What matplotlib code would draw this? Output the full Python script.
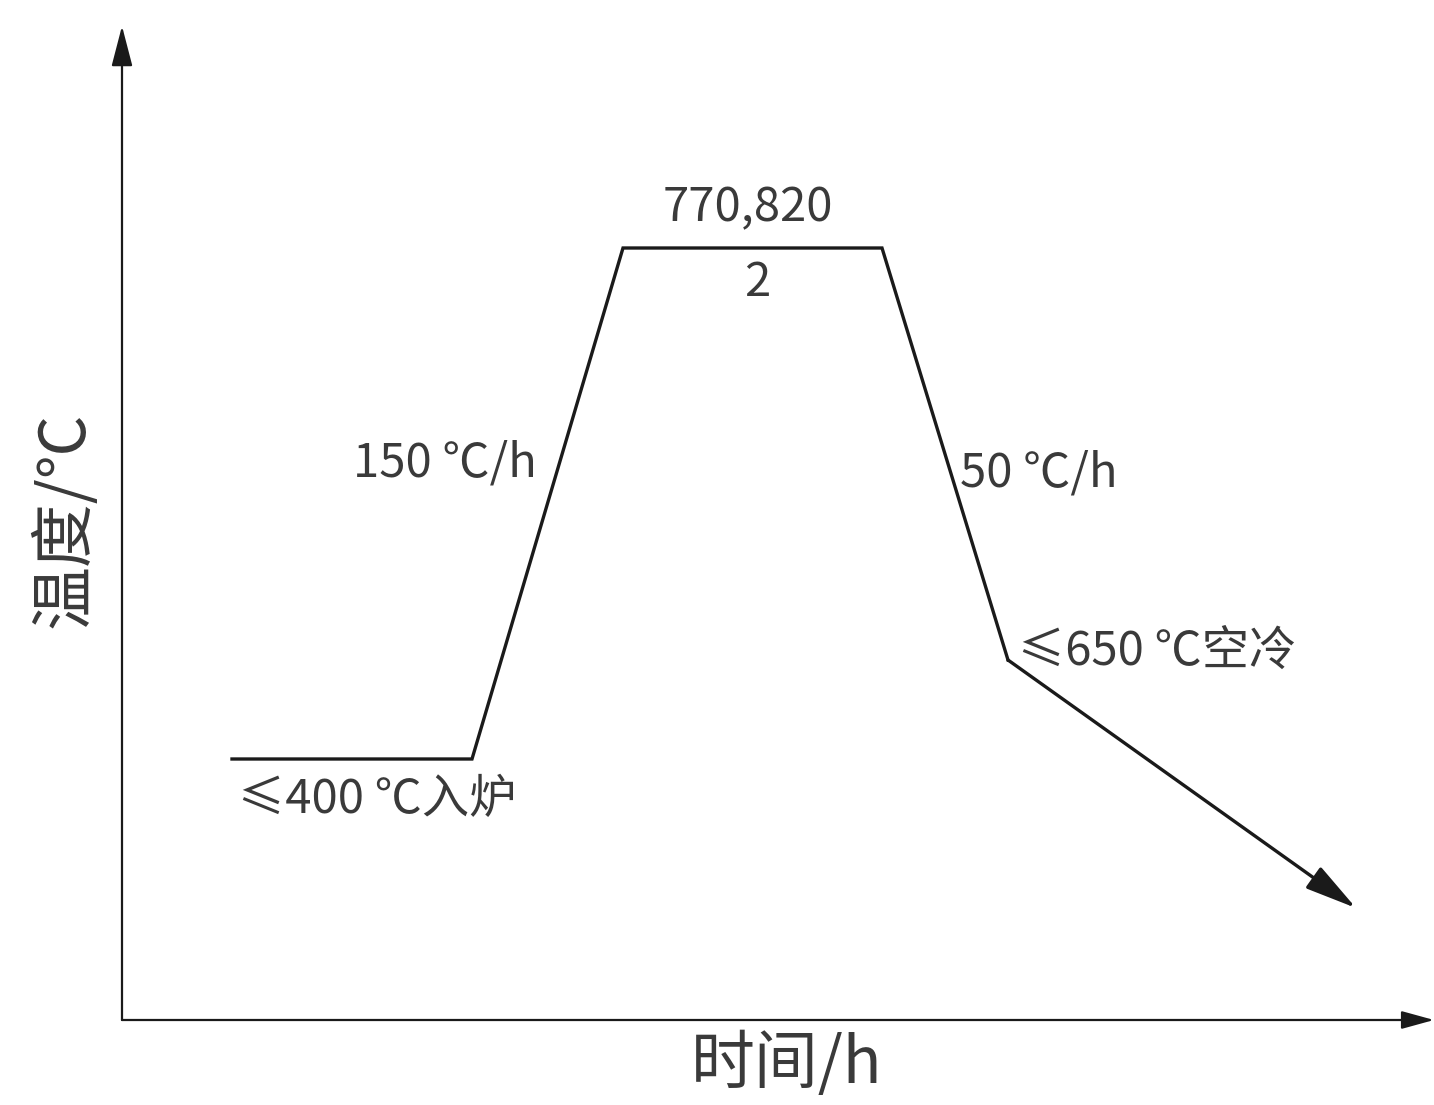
import matplotlib
matplotlib.use("Agg")
import matplotlib.pyplot as plt

plt.rcParams["font.family"] = ["Noto Sans CJK SC", "DejaVu Sans"]

# schematic heat-treatment profile (arbitrary time units, schematic temperature units)
time_pts = [1.10, 3.50, 5.01, 7.60, 8.86]
temp_pts = [261, 261, 772, 772, 360]
# air-cooling tail (drawn as arrow)
tail_end_time = 12.34
tail_end_temp = 112

x_max = 13.12
y_max = 994

labels = {
    "hold": "770,820",
    "hold_time": "2",
    "heat_rate": "150 ℃/h",
    "cool_rate": "50 ℃/h",
    "air_cool": "≤650 ℃空冷",
    "charge": "≤400 ℃入炉",
}
xlabel = "时间/h"
ylabel = "温度/℃"

W, H = 1434, 1105
fig = plt.figure(figsize=(W / 100, H / 100), dpi=100)
ax = fig.add_axes([122 / W, (H - 1020) / H, (W - 122) / W, (1020 - 26) / H])
ax.set_xlim(0, x_max)
ax.set_ylim(0, y_max)
ax.axis("off")

ink = "#1a1a1a"
txt = "#3a3a3a"

# axes with arrowheads
ax.annotate("", xy=(0, y_max), xytext=(0, 0),
            arrowprops=dict(arrowstyle="-|>,head_length=2.5,head_width=0.65",
                            color=ink, lw=1.6, shrinkA=0, shrinkB=0),
            annotation_clip=False)
ax.annotate("", xy=(x_max, 0), xytext=(0, 0),
            arrowprops=dict(arrowstyle="-|>,head_length=2.0,head_width=0.55",
                            color=ink, lw=1.6, shrinkA=0, shrinkB=0),
            annotation_clip=False)

# profile
ax.plot(time_pts, temp_pts, color=ink, lw=2.4, solid_joinstyle="miter")
ax.annotate("", xy=(tail_end_time, tail_end_temp), xytext=(time_pts[-1], temp_pts[-1]),
            arrowprops=dict(arrowstyle="-|>,head_length=3.2,head_width=0.8",
                            color=ink, lw=2.4, shrinkA=0, shrinkB=0))

fs = 34
mid_hold = (time_pts[2] + time_pts[3]) / 2
ax.text(mid_hold - 0.05, temp_pts[2] + 40, labels["hold"], ha="center", va="center",
        fontsize=fs, color=txt, fontweight="light")
ax.text(mid_hold + 0.05, temp_pts[2] - 35, labels["hold_time"], ha="center", va="center",
        fontsize=fs, color=txt, fontweight="light")
ax.text(4.15, 557, labels["heat_rate"], ha="right", va="center", fontsize=fs, color=txt,
        fontweight="light")
ax.text(8.38, 547, labels["cool_rate"], ha="left", va="center", fontsize=fs, color=txt,
        fontweight="light")
ax.text(8.96, 368, labels["air_cool"], ha="left", va="center", fontsize=fs, color=txt,
        fontweight="light")
ax.text(1.16, 220, labels["charge"], ha="left", va="center", fontsize=fs, color=txt,
        fontweight="light")

fig.text(787 / W, 1 - 1065 / H, xlabel, ha="center", va="center", fontsize=46, color=txt,
         fontweight="light")
fig.text(65 / W, 1 - 520 / H, ylabel, ha="center", va="center", fontsize=46,
         rotation=90, color=txt, fontweight="light")

fig.savefig("out.png", dpi=100, facecolor="white")
